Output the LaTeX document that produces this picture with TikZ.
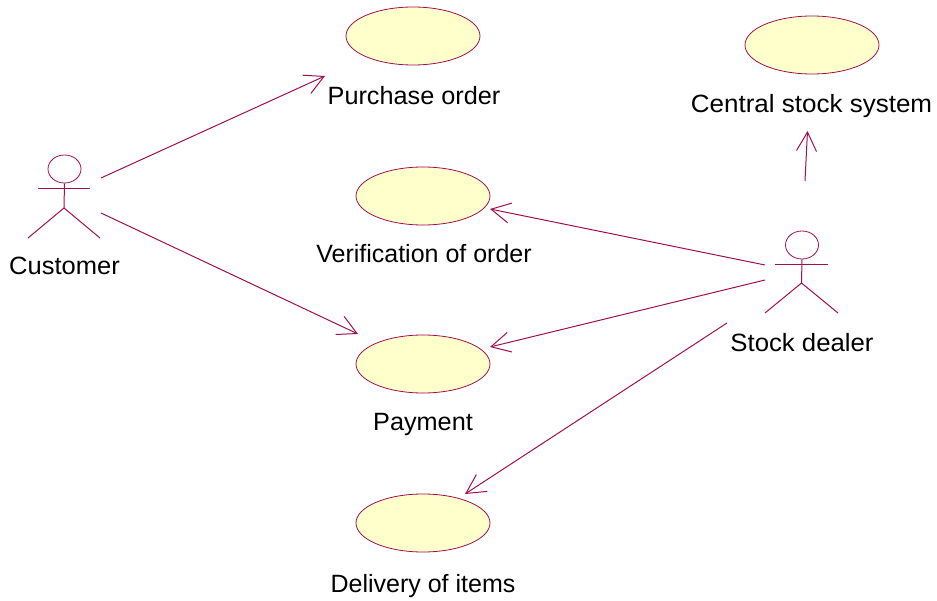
\documentclass[tikz,border=0pt]{standalone}
\usepackage{fontspec}
\usepackage{graphicx}
\setmainfont{Liberation Sans}
\usetikzlibrary{arrows.meta,shapes.geometric}
\definecolor{umlline}{HTML}{A01050}
\definecolor{umlfill}{HTML}{FFFFCB}
\tikzset{
  usecase/.style={draw=umlline,fill=umlfill,ellipse,line width=0.8pt,minimum width=134pt,minimum height=58pt,inner sep=0pt},
  actorhead/.style={draw=umlline,ellipse,line width=0.8pt,minimum width=33pt,minimum height=28pt,inner sep=0pt},
  actorline/.style={draw=umlline,line width=1pt},
  assoc/.style={draw=umlline,line width=1pt,-{Straight Barb[length=19pt,width=20pt,line width=1pt]}},
  lbl/.style={font=\fontsize{25}{28}\selectfont,text=black,inner sep=0pt,anchor=base}
}
\begin{document}
\begin{tikzpicture}[x=1pt,y=-1pt]
\useasboundingbox (0,0) rectangle (937,601);
% use cases
\node[usecase] (purchase) at (413,36) {};
\node[usecase] (central) at (812,45) {};
\node[usecase] (verify) at (423,196) {};
\node[usecase] (payment) at (423,364) {};
\node[usecase] (delivery) at (423,523) {};
% labels
\node[lbl] (lpurchase) at (414,105) {\scalebox{1.01}[1]{Purchase order}};
\node[lbl] (lcentral) at (811.5,113) {\scalebox{1.04}[1]{Central stock system}};
\node[lbl] (lverify) at (424,263) {Verification of order};
\node[lbl] (lpayment) at (423,431) {\scalebox{1.01}[1]{Payment}};
\node[lbl] (ldelivery) at (423,592) {Delivery of items};
\node[lbl] (lcustomer) at (64.5,275) {\scalebox{1.02}[1]{Customer}};
\node[lbl] (ldealer) at (802,352) {\scalebox{1.03}[1]{Stock dealer}};
% Customer actor
\node[actorhead] (customerhead) at (64.5,169) {};
\coordinate (customerhip) at (64,208);
\coordinate (customerarml) at (38,189);
\coordinate (customerarmr) at (90,189);
\coordinate (customerlegl) at (28,238);
\coordinate (customerlegr) at (100,238);
\draw[actorline] (customerhead.south) -- (customerhip);
\draw[actorline] (customerarml) -- (customerarmr);
\draw[actorline] (customerlegl) -- (customerhip) -- (customerlegr);
% Dealer actor
\node[actorhead] (dealerhead) at (802,245) {};
\coordinate (dealerhip) at (801.5,283);
\coordinate (dealerarml) at (775,265);
\coordinate (dealerarmr) at (828,265);
\coordinate (dealerlegl) at (765,313);
\coordinate (dealerlegr) at (838,313);
\draw[actorline] (dealerhead.south) -- (dealerhip);
\draw[actorline] (dealerarml) -- (dealerarmr);
\draw[actorline] (dealerlegl) -- (dealerhip) -- (dealerlegr);
% connector ends
\coordinate (c1) at (101,178);
\coordinate (c2) at (101,213);
\coordinate (d1) at (765,265);
\coordinate (d2) at (765,280);
\coordinate (d3) at (727,323);
\coordinate (d4) at (805,181);
\coordinate (t1) at (325,76);
\coordinate (t2) at (358,334);
\coordinate (t3) at (490,209);
\coordinate (t4) at (490,347);
\coordinate (t5) at (465,494);
\coordinate (t6) at (807.5,131);
\draw[assoc] (c1) -- (t1);
\draw[assoc] (c2) -- (t2);
\draw[assoc] (d1) -- (t3);
\draw[assoc] (d2) -- (t4);
\draw[assoc] (d3) -- (t5);
\draw[assoc] (d4) -- (t6);
\end{tikzpicture}
\end{document}
